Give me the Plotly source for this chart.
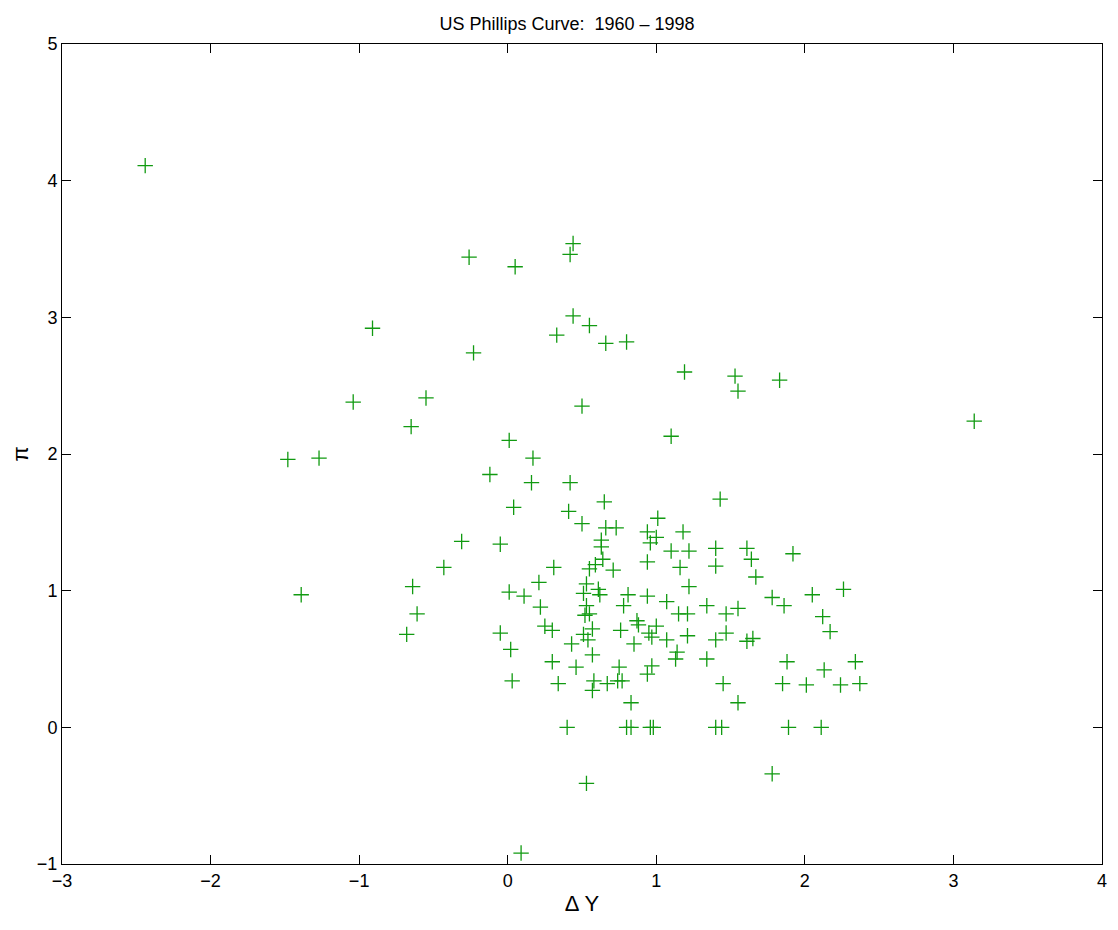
import plotly.graph_objects as go

dy = [-2.44, -0.26, 0.05, 0.42, 0.44, -0.91, 0.44, 0.55, 0.33, 0.66, 0.80, -0.23, 1.19, 1.53, 1.55, 1.83,
      3.14, -1.04, -0.55, 0.50, -0.65, 0.01, 1.10, -1.48, -1.27, 0.17, -0.12, 0.16, 0.42, 0.04, 0.41, 1.43,
      0.65, -0.31, -0.05, -0.43, -1.39, -0.64, -0.61, -0.68, 0.01, -0.05, 0.02, 0.03, 0.09, 0.53, 0.40, 1.78,
      0.50, 1.01, 0.66, 0.73, 0.94, 1.00, 0.96, 1.18, 0.63, 0.63, 1.10, 1.22, 1.40,
      0.64, 0.94, 0.31, 0.59, 0.71, 0.55, 1.16, 1.40,
      0.21, 0.53, 1.22, 0.11, 0.61, 0.62, 0.51, 0.81, 0.94, 1.07, 1.34, 0.78, 0.53, 0.22,
      0.52, 0.55, 1.15, 1.21, 0.25, 0.30, 0.87, 0.88, 1.00, 0.57, 0.51, 0.76, 0.95, 0.97, 1.07, 1.21, 1.40, 0.54,
      0.43, 0.85, 1.14, 1.13, 1.34, 0.57, 0.30, 0.46, 0.75, 0.97, 0.94,
      0.34, 0.58, 0.57, 0.67, 0.74, 0.77, 0.83, 0.80, 0.83, 0.96, 0.98, 1.40,
      1.61, 1.64, 1.92, 1.67, 1.78, 2.05, 2.26, 1.47, 1.55, 1.86, 2.12, 2.17, 1.47, 1.61, 1.65,
      1.88, 2.13, 2.34, 1.45, 1.85, 2.01, 2.24, 2.37, 1.55, 1.44, 1.89, 2.11]
infl = [4.11, 3.44, 3.37, 3.46, 3.54, 2.92, 3.01, 2.94, 2.87, 2.81, 2.82, 2.74, 2.60, 2.57, 2.46, 2.54,
        2.24, 2.38, 2.41, 2.35, 2.20, 2.10, 2.13, 1.96, 1.97, 1.97, 1.85, 1.79, 1.79, 1.61, 1.58, 1.67,
        1.65, 1.36, 1.34, 1.17, 0.97, 1.03, 0.83, 0.68, 0.99, 0.69, 0.57, 0.34, -0.92, -0.41, 0.00, -0.34,
        1.49, 1.53, 1.46, 1.46, 1.43, 1.39, 1.35, 1.43, 1.37, 1.32, 1.29, 1.29, 1.31,
        1.23, 1.21, 1.17, 1.19, 1.15, 1.16, 1.17, 1.18,
        1.06, 1.05, 1.03, 0.96, 1.01, 0.97, 0.98, 0.97, 0.96, 0.92, 0.89, 0.89, 0.89, 0.88,
        0.82, 0.83, 0.83, 0.83, 0.74, 0.71, 0.78, 0.75, 0.74, 0.72, 0.68, 0.71, 0.69, 0.66, 0.64, 0.67, 0.64, 0.64,
        0.61, 0.61, 0.55, 0.50, 0.50, 0.53, 0.48, 0.44, 0.44, 0.45, 0.39,
        0.32, 0.34, 0.27, 0.32, 0.34, 0.34, 0.18, 0.00, 0.00, 0.00, 0.00, 0.00,
        1.31, 1.23, 1.27, 1.10, 0.95, 0.97, 1.01, 0.83, 0.87, 0.89, 0.81, 0.70, 0.69, 0.63, 0.65,
        0.48, 0.42, 0.48, 0.32, 0.32, 0.31, 0.31, 0.32, 0.18, 0.00, 0.00, 0.00]

FONT = "Liberation Sans, Arial, sans-serif"
GREEN = "#119a11"

fig = go.Figure(go.Scatter(x=dy, y=infl, mode="markers",
                           marker=dict(symbol="cross-thin-open", size=11, color=GREEN,
                                       line=dict(color=GREEN, width=1.3))))
fig.update_layout(
    width=1118, height=930, paper_bgcolor="white", plot_bgcolor="white",
    font=dict(family=FONT, size=18, color="black"), showlegend=False,
    margin=dict(l=54, r=24, t=36, b=74, autoexpand=False),
    title=dict(text="US Phillips Curve:  1960 \u2013 1998", x=0.5, xanchor="center",
               y=0.99, yanchor="top", font=dict(size=18)))
ax = dict(showgrid=False, zeroline=False, showline=True, linecolor="black", linewidth=1,
          mirror="ticks", ticks="inside", ticklen=9, tickcolor="black", automargin=False)
fig.update_xaxes(range=[-3, 4], title=dict(text="\u0394 Y", standoff=6),
                 tickvals=[-3, -2, -1, 0, 1, 2, 3, 4],
                 ticktext=["\u22123", "\u22122", "\u22121", "0", "1", "2", "3", "4"], **ax)
fig.update_yaxes(range=[-1, 5], title=dict(text="\u03c0", standoff=12),
                 tickvals=[-1, 0, 1, 2, 3, 4, 5],
                 ticktext=["\u22121", "0", "1", "2", "3", "4", "5"], **ax)
fig.write_html("out.html")
